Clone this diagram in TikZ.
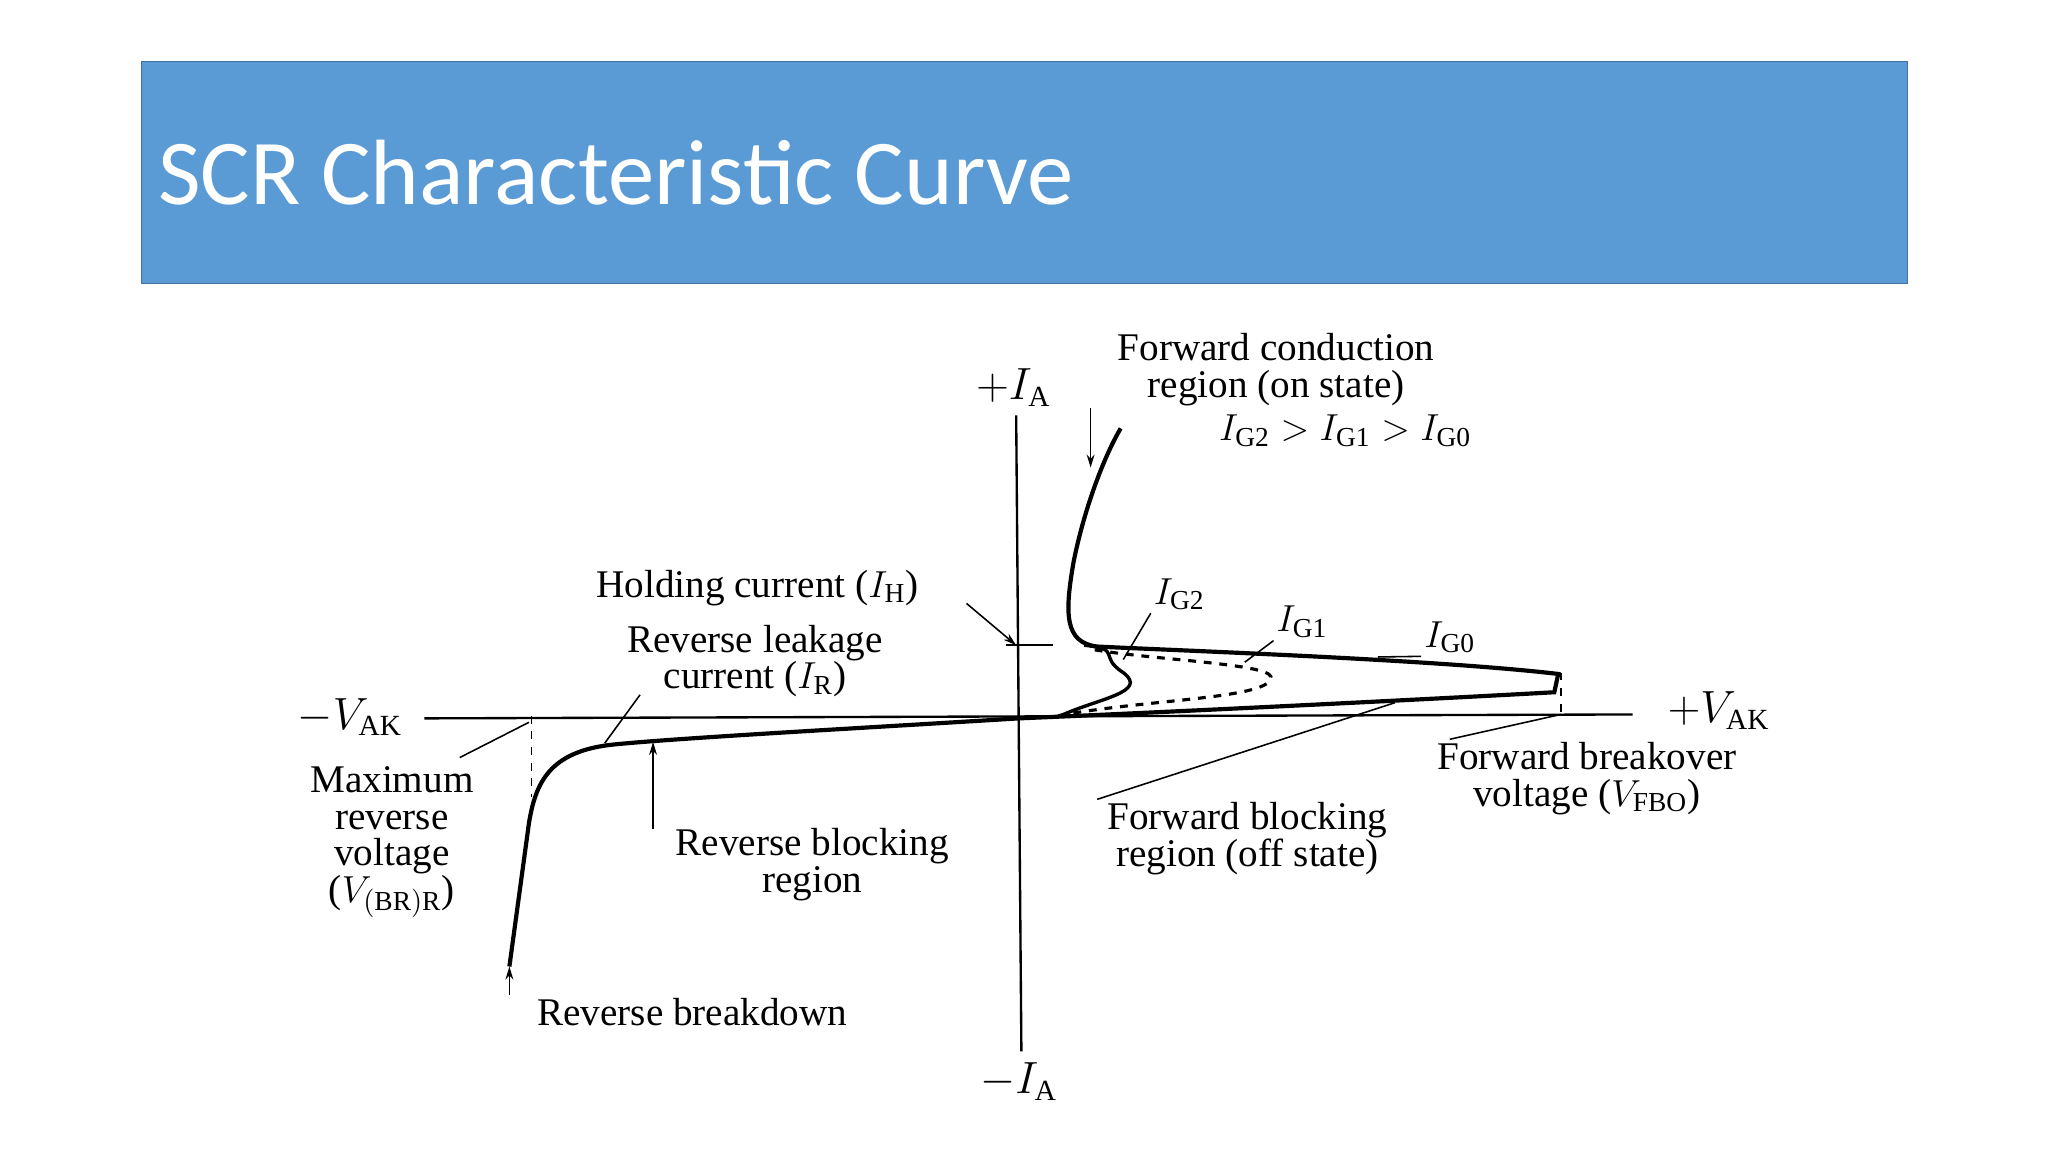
\documentclass[tikz,border=0pt]{standalone}
\usepackage{amsmath}
\usepackage{fontspec}
\setmainfont{Liberation Serif}
\newfontfamily\titlefont{Carlito}
\usetikzlibrary{arrows.meta}
\definecolor{barblue}{HTML}{5B9BD5}
\definecolor{baredge}{HTML}{41719C}
\begin{document}
\begin{tikzpicture}[x=0.5pt,y=-0.5pt,
  lbl/.style={font=\fontsize{15}{14}\selectfont,align=center,inner sep=1pt},
  curve/.style={line width=1.6pt},
  thin/.style={line width=0.6pt},
  arr/.style={line width=0.6pt,-{Stealth[length=5pt,width=3pt]}}]
\useasboundingbox (0,0) rectangle (1568,882);
\fill[white] (0,0) rectangle (1568,882);
\node[draw=baredge,fill=barblue,minimum width=676pt,minimum height=85pt,anchor=north west,inner sep=0] (bar) at (108,47) {};
\node[anchor=west,text=white,font=\titlefont\fontsize{35.5}{38}\selectfont] (title) at (114,132) {SCR Characteristic Curve};
% axes
\coordinate (yt) at (778,318); \coordinate (yb) at (782,805);
\coordinate (xl) at (325,550); \coordinate (xr) at (1250,547);
\draw[line width=0.9pt] (yt) -- (yb);
\draw[line width=0.9pt] (xl) -- (xr);
\node[lbl,font=\fontsize{16}{16}\selectfont] (ia) at (776,297) {$+I_{\mathrm{A}}$};
\node[lbl,font=\fontsize{16}{16}\selectfont] (mia) at (780,828) {$-I_{\mathrm{A}}$};
\node[lbl,font=\fontsize{16}{16}\selectfont] (mvak) at (268,549) {$-V_{\mathrm{AK}}$};
\node[lbl,font=\fontsize{16}{16}\selectfont] (pvak) at (1316,544) {$+V_{\mathrm{AK}}$};
% forward curves
\draw[curve] (780,550) .. controls (900,545) and (1100,535) .. (1190,530) -- (1193,516)
  .. controls (1100,505) and (900,498) .. (840,495) .. controls (815,492) and (815,470) .. (822,430)
  .. controls (830,390) and (845,350) .. (858,328);
\draw[line width=1.2pt,dashed] (810,548) .. controls (880,535) and (975,535) .. (973,518)
  .. controls (970,508) and (880,505) .. (835,497);
\draw[line width=1.3pt] (812,548) .. controls (840,535) and (880,530) .. (860,515)
  .. controls (840,502) and (860,497) .. (830,494);
% reverse curve
\draw[curve] (780,550) .. controls (650,558) and (520,565) .. (470,570)
  .. controls (420,575) and (410,600) .. (405,630) -- (390,740);
\coordinate (d1) at (407,548); \coordinate (d2) at (407,610);
\draw[thin,dashed] (d1) -- (d2);
\coordinate (f1) at (1195,515); \coordinate (f2) at (1195,550);
\draw[thin,dashed] (f1) -- (f2);
% holding current
\coordinate (h1) at (770,494); \coordinate (h2) at (806,494);
\draw[thin] (h1) -- (h2);
\node[lbl] (hold) at (580,450) {Holding current ($I_{\mathrm{H}}$)};
\coordinate (ha) at (778,494);
\draw[arr] (740,462) -- (ha);
% labels
\node[lbl] (fc) at (977,283) {Forward conduction\\region (on state)};
\node[lbl] (ig) at (1030,330) {$I_{\mathrm{G2}} > I_{\mathrm{G1}} > I_{\mathrm{G0}}$};
\coordinate (fa1) at (835,312); \coordinate (fa2) at (835,358);
\draw[arr] (fa1) -- (fa2);
\node[lbl] (g2) at (903,455) {$I_{\mathrm{G2}}$};
\coordinate (g2e) at (860,505); \draw[thin] (g2.south west) -- (g2e);
\node[lbl] (g1) at (997,476) {$I_{\mathrm{G1}}$};
\coordinate (g1e) at (953,507); \draw[thin] (g1.south west) -- (g1e);
\node[lbl] (g0) at (1110,488) {$I_{\mathrm{G0}}$};
\coordinate (g0e) at (1055,503); \draw[thin] (g0.south west) -- (g0e);
\node[lbl] (rl) at (578,506) {Reverse leakage\\current ($I_{\mathrm{R}}$)};
\coordinate (rle) at (463,569); \draw[thin] (490,532) -- (rle);
\node[lbl] (mr) at (300,645) {Maximum\\reverse\\voltage\\($V_{\mathrm{(BR)R}}$)};
\coordinate (mre) at (405,553); \draw[thin] (352,580) -- (mre);
\node[lbl] (rb) at (622,662) {Reverse blocking\\region};
\coordinate (rbs) at (500,635); \coordinate (rbe) at (500,568);
\draw[arr] (rbs) -- (rbe);
\node[lbl] (fb) at (955,642) {Forward blocking\\region (off state)};
\coordinate (fbe) at (1068,538); \draw[thin] (840,612) -- (fbe);
\node[lbl] (fbo) at (1215,596) {Forward breakover\\voltage ($V_{\mathrm{FBO}}$)};
\coordinate (fboe) at (1195,547); \draw[thin] (1110,566) -- (fboe);
\node[lbl] (rbd) at (530,775) {Reverse breakdown};
\coordinate (rds) at (390,762); \coordinate (rde) at (390,740);
\draw[arr] (rds) -- (rde);
\end{tikzpicture}
\end{document}
